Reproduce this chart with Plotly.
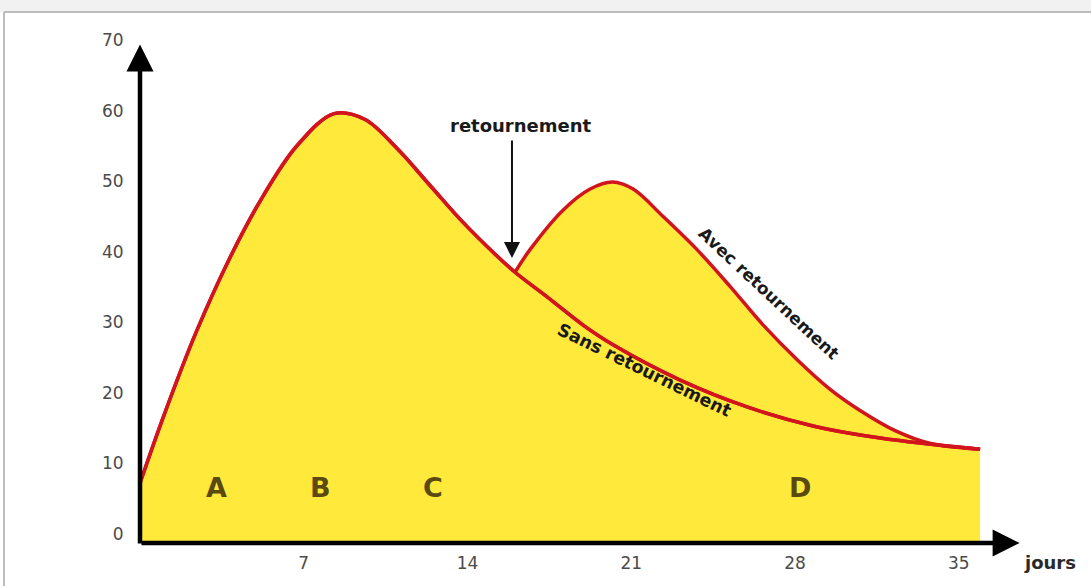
import plotly.graph_objects as go

# ---- data (days, values) ----
sans_days = [0, 1.0, 2.4, 3.85, 5.26, 6.7, 8.3, 9.6, 11.0, 12.4, 13.8,
             15.26, 16.03, 17.4, 18.94, 20.22, 23.09, 25.95, 28.77, 31.64, 35.91]
sans_vals = [7.2, 16.6, 28.6, 39.2, 47.9, 55.0, 59.6, 58.8, 54.6, 49.4, 44.2,
             39.4, 37.1, 33.6, 29.6, 26.8, 21.8, 18.0, 15.3, 13.6, 12.0]

avec_days = [16.03, 16.67, 18.08, 19.24, 20.2, 21.08, 22.36, 23.81, 25.22, 26.64,
             28.09, 29.5, 30.78, 32.3, 33.8, 35.91]
avec_vals = [37.1, 40.3, 45.9, 48.9, 49.9, 48.9, 45.0, 40.3, 35.1, 29.6,
             24.7, 20.5, 17.5, 14.6, 12.8, 12.0]

x_ticks = [7, 14, 21, 28, 35]
y_ticks = [0, 10, 20, 30, 40, 50, 60, 70]
phase_labels = ["A", "B", "C", "D"]
phase_days = [3.29, 7.70, 12.53, 28.2]
phase_y = 6.6

BASE = -1.3
YELLOW = "#FFEA3C"
RED = "#D2141E"
FONT = "DejaVu Sans"
SMOOTH = 1.0

fig = go.Figure()

# baseline for fill
fig.add_trace(go.Scatter(x=[sans_days[0], sans_days[-1]], y=[BASE, BASE], mode="lines",
                         line=dict(width=0, color=YELLOW), hoverinfo="skip", showlegend=False))
# sans retournement (fill to baseline)
fig.add_trace(go.Scatter(x=sans_days, y=sans_vals, mode="lines", fill="tonexty",
                         fillcolor=YELLOW, line=dict(color=RED, width=3.5, shape="spline", smoothing=SMOOTH),
                         showlegend=False))
# avec retournement (fill to sans curve)
fig.add_trace(go.Scatter(x=avec_days, y=avec_vals, mode="lines", fill="tonexty",
                         fillcolor=YELLOW, line=dict(color=RED, width=3.5, shape="spline", smoothing=SMOOTH),
                         showlegend=False))
# redraw sans line on top
fig.add_trace(go.Scatter(x=sans_days, y=sans_vals, mode="lines",
                         line=dict(color=RED, width=3.5, shape="spline", smoothing=SMOOTH),
                         showlegend=False))

W, H = 1091, 586
L, R, T, B = 140, 62, 36, 43
pw, ph = W - L - R, H - T - B


def px(xp):
    return (xp - L) / pw


def py(yp):
    return (H - B - yp) / ph


shapes = [
    dict(type="rect", xref="paper", yref="paper", x0=px(0), x1=px(W), y0=py(0), y1=py(12),
         fillcolor="#f1f1f1", line=dict(width=0), layer="below"),
    dict(type="line", xref="paper", yref="paper", x0=px(4), x1=px(W), y0=py(12), y1=py(12),
         line=dict(color="#a8a8a8", width=1.5)),
    dict(type="line", xref="paper", yref="paper", x0=px(4), x1=px(4), y0=py(12), y1=py(H + 5),
         line=dict(color="#a8a8a8", width=1.5)),
]

annotations = []
# axes with arrows
annotations.append(dict(x=37.6, y=BASE, ax=0, ay=BASE, xref="x", yref="y", axref="x", ayref="y",
                        text="", showarrow=True, arrowhead=2, arrowsize=1.2, arrowwidth=4.5,
                        arrowcolor="black", standoff=0, startstandoff=0))
annotations.append(dict(x=0, y=69.4, ax=0, ay=BASE - 0.3, xref="x", yref="y", axref="x", ayref="y",
                        text="", showarrow=True, arrowhead=2, arrowsize=1.2, arrowwidth=4.5,
                        arrowcolor="black", standoff=0, startstandoff=0))
# retournement arrow
annotations.append(dict(x=15.9, y=39.1, ax=15.9, ay=56.0, xref="x", yref="y", axref="x", ayref="y",
                        text="", showarrow=True, arrowhead=2, arrowsize=1.6, arrowwidth=2,
                        arrowcolor="#111", standoff=0))
annotations.append(dict(x=16.29, y=57.85, xref="x", yref="y", text="<b>retournement</b>",
                        showarrow=False, font=dict(family=FONT, size=18, color="#1a1a1a")))
annotations.append(dict(x=26.87, y=34.2, xref="x", yref="y", text="<b>Avec retournement</b>",
                        showarrow=False, textangle=43, font=dict(family=FONT, size=17, color="#1a1a1a")))
annotations.append(dict(x=21.55, y=23.2, xref="x", yref="y", text="<b>Sans retournement</b>",
                        showarrow=False, textangle=26, font=dict(family=FONT, size=17.5, color="#1a1a1a")))
for lab, d in zip(phase_labels, phase_days):
    annotations.append(dict(x=d, y=phase_y, xref="x", yref="y", text="<b>" + lab + "</b>",
                            showarrow=False, font=dict(family=FONT, size=27, color="#5b4a10")))
annotations.append(dict(x=px(1050), y=py(562), xref="paper", yref="paper", text="<b>jours</b>",
                        xanchor="center", yanchor="middle",
                        showarrow=False, font=dict(family=FONT, size=18, color="#2a2a2a")))

fig.update_layout(
    width=W, height=H,
    margin=dict(l=L, r=R, t=T, b=B, pad=0),
    paper_bgcolor="white", plot_bgcolor="white",
    showlegend=False,
    shapes=shapes,
    annotations=annotations,
    xaxis=dict(range=[0, 38], tickvals=x_ticks, showgrid=False, zeroline=False, showline=False,
               ticks="outside", ticklen=5, tickcolor="rgba(0,0,0,0)",
               tickfont=dict(family=FONT, size=17, color="#4a4a4a")),
    yaxis=dict(range=[BASE, 70.6], tickvals=y_ticks, showgrid=False, zeroline=False, showline=False,
               ticks="outside", ticklen=12, tickcolor="rgba(0,0,0,0)",
               tickfont=dict(family=FONT, size=17, color="#4a4a4a")),
)

fig.write_html("out.html", config={"displayModeBar": False},
               post_script="document.body.style.margin='0';document.body.style.overflow='hidden';")
